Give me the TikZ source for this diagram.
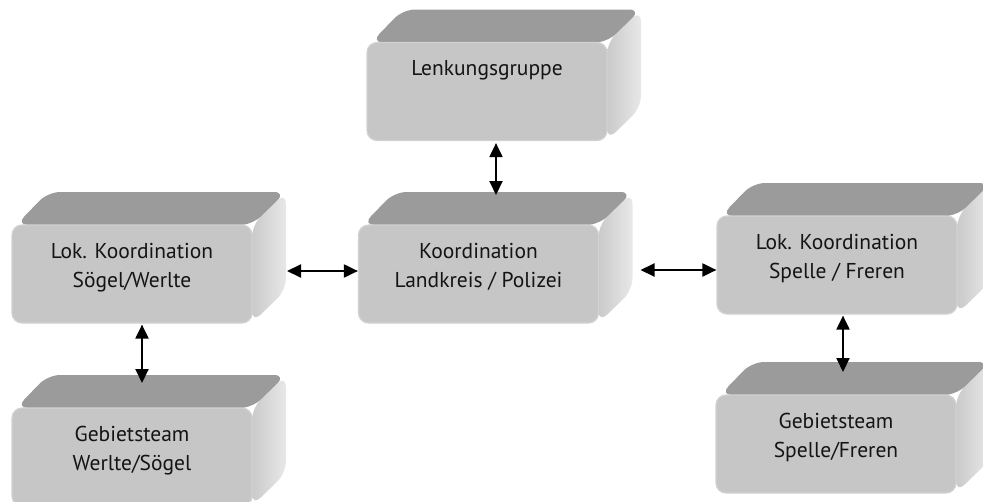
\documentclass[tikz,border=0pt]{standalone}
\usepackage{fontspec}
\setmainfont{PT Sans}
\usetikzlibrary{calc,arrows.meta}
\definecolor{frontc}{HTML}{C6C6C6}
\definecolor{frontrim}{HTML}{D2D2D2}
\definecolor{topc}{HTML}{9B9B9B}
\definecolor{sidel}{HTML}{CACACA}
\definecolor{sider}{HTML}{E8E8E8}
\tikzset{
  frontface/.style={draw=frontrim, line width=1.2pt, fill=frontc, rounded corners=10pt,
    minimum width=240pt, minimum height=98pt, inner sep=0pt},
  topface/.style={fill=topc, rounded corners=12pt},
  sideface/.style={left color=sidel, right color=sider, rounded corners=12pt},
  lbl/.style={inner sep=0pt, anchor=base, font=\fontsize{21.5}{29}\selectfont, text=black!92},
  biarrow/.style={line width=2pt, {Triangle[length=14pt,width=13pt]}-{Triangle[length=14pt,width=13pt]}}
}
% #1 name, #2 x, #3 y (centre of front face), #4 text
\newcommand\tdbox[4]{%
  \shade[sideface] (#2+120,#3-49) -- (#2+154,#3-82) -- (#2+154,#3+16) -- (#2+120,#3+49) -- cycle;
  \fill[topface] (#2-116,#3-49) -- (#2-84,#3-82) -- (#2+154,#3-82) -- (#2+120,#3-49) -- cycle;
  \node[frontface] (#1) at (#2,#3) {};
  \coordinate (#1b) at (#2+34,#3-82);
  \coordinate (#1r) at (#2+154,#3);
  \node[lbl] (#1t) at ($(#1.north)+(0,34)$) {\begin{tabular}[t]{@{}c@{}}#4\end{tabular}};
}
\begin{document}
\begin{tikzpicture}[x=1pt,y=-1pt]
\useasboundingbox (0,0) rectangle (983,501);
\clip (0,0) rectangle (983,501);
\tdbox{lenk}{487}{91.5}{Lenkungsgruppe}
\tdbox{koord}{478.5}{274}{Koordination\\Landkreis / Polizei}
\tdbox{sog}{132}{274}{Lok. Koordination\\Sögel/Werlte}
\tdbox{geba}{132}{457}{Gebietsteam\\Werlte/Sögel}
\tdbox{spel}{837}{265}{Lok. Koordination\\Spelle / Freren}
\tdbox{gebb}{836}{444}{Gebietsteam\\Spelle/Freren}
% connectors
\draw[biarrow] ($(lenk.south)+(9,2)$) -- ($(lenk.south |- koordb)+(9,3)$);
\draw[biarrow] ($(koord.west)+(0,-3)$) -- ($(sogr |- koord.west)+(1,-3)$);
\draw[biarrow] ($(spel.west)+(0,5)$) -- ($(koordr |- spel.west)+(8,5)$);
\draw[biarrow] ($(sog.south)+(10,1)$) -- ($(sog.south |- gebab)+(10,8)$);
\draw[biarrow] ($(spel.south)+(6,1)$) -- ($(spel.south |- gebbb)+(6,10)$);
\end{tikzpicture}
\end{document}
